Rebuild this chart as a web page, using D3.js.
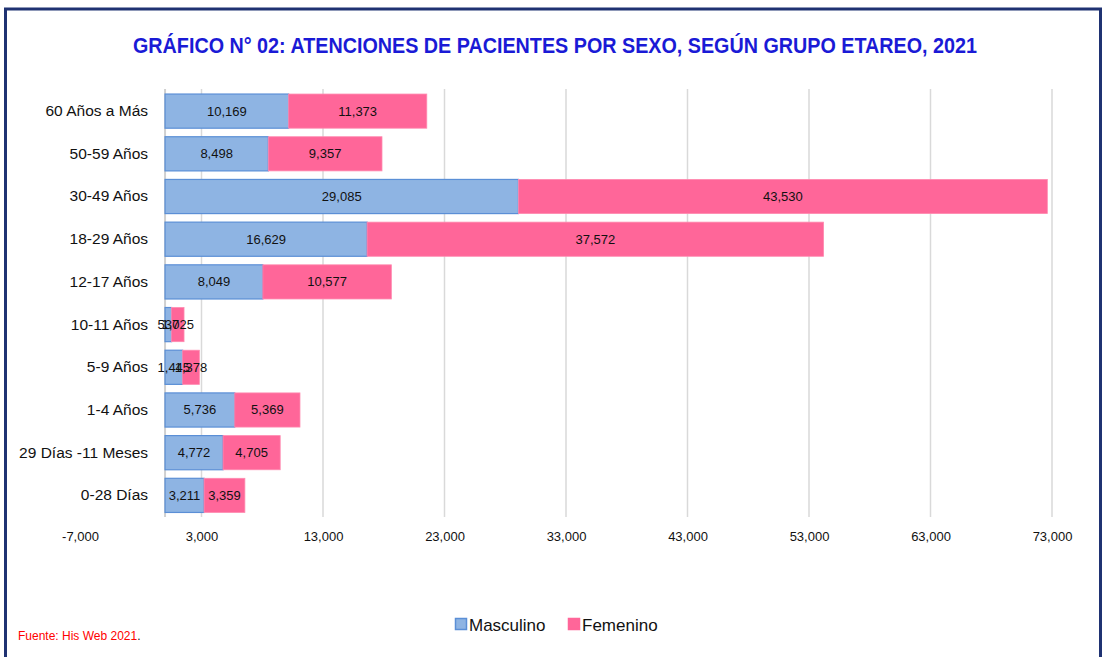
<!DOCTYPE html>
<html>
<head>
<meta charset="utf-8">
<script src="https://cdn.jsdelivr.net/npm/d3@7"></script>
<style>
  body { margin: 0; background: #fff; }
  text { font-family: "Liberation Sans", Arial, sans-serif; }
</style>
</head>
<body>
<script>
const width = 1103,
    height = 657

const categories = ["60 Años a Más", "50-59 Años", "30-49 Años", "18-29 Años", "12-17 Años",
    "10-11 Años", "5-9 Años", "1-4 Años", "29 Días -11 Meses", "0-28 Días"]
const masculino = [10169, 8498, 29085, 16629, 8049, 537, 1445, 5736, 4772, 3211]
const femenino = [11373, 9357, 43530, 37572, 10577, 1025, 1378, 5369, 4705, 3359]
const tickValues = [-7000, 3000, 13000, 23000, 33000, 43000, 53000, 63000, 73000]

const svg = d3.select("body")
    .append("svg")
    .attr("width", width)
    .attr("height", height)

// outer frame
svg.append("rect")
    .attr("x", 5.5).attr("y", 9)
    .attr("width", 1095).attr("height", 660)
    .attr("fill", "none")
    .attr("stroke", "#1f3272")
    .attr("stroke-width", 3)

svg.append("text")
    .attr("x", 555).attr("y", 53)
    .attr("text-anchor", "middle")
    .attr("fill", "#1a1ad6")
    .style("font-family", "'Liberation Sans Narrow', 'Arial Narrow', sans-serif")
    .style("font-weight", "bold")
    .style("font-size", "22px")
    .attr("textLength", 844)
    .attr("lengthAdjust", "spacingAndGlyphs")
    .text("GRÁFICO N° 02: ATENCIONES DE PACIENTES POR SEXO, SEGÚN GRUPO ETAREO, 2021")

const x = d3.scaleLinear()
    .domain([-7000, 73000])
    .range([80, 1052])

const y = d3.scaleBand()
    .domain(categories)
    .range([85.5, 521])
    .padding(0.2)

const gridTop = 89, gridBottom = 517

// gridlines
svg.append("g")
    .selectAll("line")
    .data(tickValues.filter(d => d > 0))
    .join("line")
    .attr("x1", d => x(d)).attr("x2", d => x(d))
    .attr("y1", gridTop).attr("y2", gridBottom)
    .attr("stroke", "#d9d9d9")
    .attr("stroke-width", 1.5)

svg.append("line")
    .attr("x1", x(0)).attr("x2", x(0))
    .attr("y1", gridTop).attr("y2", gridBottom)
    .attr("stroke", "#d0d0d0")
    .attr("stroke-width", 2)

const rows = categories.map((c, i) => ({ cat: c, m: masculino[i], f: femenino[i] }))

// masculino bars
svg.append("g")
    .selectAll("rect")
    .data(rows)
    .join("rect")
    .attr("x", x(0))
    .attr("y", d => y(d.cat))
    .attr("width", d => x(d.m) - x(0))
    .attr("height", y.bandwidth())
    .attr("fill", "#8eb4e3")
    .attr("stroke", "#5b8fd6")
    .attr("stroke-width", 1.2)

// femenino bars
svg.append("g")
    .selectAll("rect")
    .data(rows)
    .join("rect")
    .attr("x", d => x(d.m))
    .attr("y", d => y(d.cat))
    .attr("width", d => x(d.m + d.f) - x(d.m))
    .attr("height", y.bandwidth())
    .attr("fill", "#ff6699")
    .attr("stroke", "#ff8ab0")
    .attr("stroke-width", 0.8)

const fmt = d => d3.format(",")(d).replace("−", "-")

svg.append("g")
    .selectAll("text")
    .data(rows)
    .join("text")
    .attr("x", d => (x(0) + x(d.m)) / 2)
    .attr("y", d => y(d.cat) + y.bandwidth() / 2 + 4.5)
    .attr("text-anchor", "middle")
    .style("font-size", "13px")
    .attr("fill", "#111")
    .text(d => fmt(d.m))

svg.append("g")
    .selectAll("text")
    .data(rows)
    .join("text")
    .attr("x", d => (x(d.m) + x(d.m + d.f)) / 2)
    .attr("y", d => y(d.cat) + y.bandwidth() / 2 + 4.5)
    .attr("text-anchor", "middle")
    .style("font-size", "13px")
    .attr("fill", "#111")
    .text(d => fmt(d.f))

// category labels
svg.append("g")
    .attr("transform", `translate(${x(0)},0)`)
    .call(d3.axisLeft(y).tickSize(0).tickPadding(17))
    .call(g => g.select(".domain").remove())
    .selectAll("text")
    .style("font-family", "'Liberation Sans', Arial, sans-serif")
    .style("font-size", "15.5px")
    .attr("fill", "#111")

// x axis labels
svg.append("g")
    .attr("transform", "translate(0,523)")
    .call(d3.axisBottom(x).tickValues(tickValues).tickFormat(fmt).tickSize(0).tickPadding(9))
    .call(g => g.select(".domain").remove())
    .selectAll("text")
    .style("font-family", "'Liberation Sans', Arial, sans-serif")
    .style("font-size", "13px")
    .attr("fill", "#111")

// legend
const legend = [["Masculino", "#8eb4e3", "#5b8fd6", 455], ["Femenino", "#ff6699", "#ff6699", 568]]
const lg = svg.append("g")
    .selectAll("g")
    .data(legend)
    .join("g")
    .attr("transform", d => `translate(${d[3]},618)`)
lg.append("rect")
    .attr("x", 0.5).attr("y", 0.5)
    .attr("width", 11).attr("height", 11)
    .attr("fill", d => d[1])
    .attr("stroke", d => d[2])
    .attr("stroke-width", 1.5)
lg.append("text")
    .attr("x", 14).attr("y", 12.5)
    .style("font-size", "17px")
    .attr("fill", "#111")
    .text(d => d[0])

const src = svg.append("text")
    .attr("x", 18).attr("y", 640)
    .style("font-size", "12px")
src.append("tspan").attr("fill", "#ff0000").text("Fuente: His Web 2021")
src.append("tspan").attr("fill", "#111").text(".")
</script>
</body>
</html>
